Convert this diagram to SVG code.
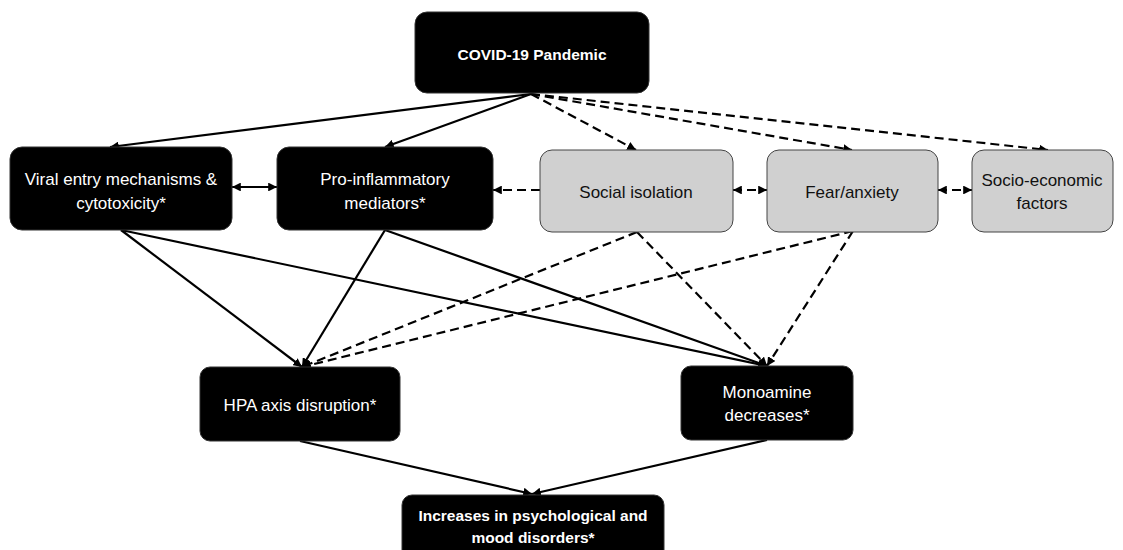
<svg xmlns="http://www.w3.org/2000/svg" width="1123" height="550" viewBox="0 0 1123 550">
<defs>
<marker id="ah" viewBox="0 0 10 10" refX="10" refY="5" markerWidth="4" markerHeight="4" orient="auto-start-reverse" markerUnits="strokeWidth">
<path d="M0,0 L10,5 L0,10 z" fill="#000"/>
</marker>
<style>
.dark rect{fill:#000;stroke:#333;stroke-width:1}
.light rect{fill:#d0d0d0;stroke:#444;stroke-width:1}
text{font-family:"Liberation Sans",Arial,sans-serif;font-size:17px;text-anchor:middle}
.dark text{fill:#fff}
.light text{fill:#111}
.b{font-weight:bold;font-size:15.5px}
.c line{stroke:#000;stroke-width:2.2;fill:none;marker-end:url(#ah)}
.c .d{stroke-dasharray:9 5}
.c .both{marker-start:url(#ah)}
</style>
</defs>
<rect width="1123" height="550" fill="#fff"/>
<g class="c" id="connectors">
<line x1="531" y1="94" x2="110" y2="147"/>
<line x1="531" y1="94" x2="385" y2="147"/>
<line class="d" x1="531" y1="94" x2="636" y2="150"/>
<line class="d" x1="531" y1="94" x2="852" y2="150"/>
<line class="d" x1="531" y1="94" x2="1048" y2="150"/>
<line class="both" x1="232" y1="187" x2="277" y2="187"/>
<line class="d" x1="540" y1="190" x2="493" y2="190"/>
<line class="d both" x1="733" y1="190" x2="767" y2="190"/>
<line class="d both" x1="938" y1="190" x2="972" y2="190"/>
<line x1="121" y1="230" x2="302" y2="367"/>
<line x1="121" y1="230" x2="767" y2="366"/>
<line x1="385" y1="230" x2="302" y2="367"/>
<line x1="385" y1="230" x2="767" y2="366"/>
<line class="d" x1="637" y1="232" x2="302" y2="367"/>
<line class="d" x1="637" y1="232" x2="767" y2="366"/>
<line class="d" x1="853" y1="231" x2="302" y2="367"/>
<line class="d" x1="853" y1="231" x2="767" y2="366"/>
<line x1="300" y1="441" x2="532" y2="494"/>
<line x1="767" y1="440" x2="532" y2="494"/>
</g>
<g id="covid" class="dark">
<rect x="415" y="12" width="234" height="81" rx="12"/>
<text class="b" x="532" y="60">COVID-19 Pandemic</text>
</g>
<g id="viral" class="dark">
<rect x="10" y="147" width="222" height="83" rx="12"/>
<text x="121" y="185">Viral entry mechanisms &amp;</text>
<text x="121" y="209">cytotoxicity*</text>
</g>
<g id="proinflammatory" class="dark">
<rect x="277" y="147" width="216" height="83" rx="12"/>
<text x="385" y="185">Pro-inflammatory</text>
<text x="385" y="209">mediators*</text>
</g>
<g id="social" class="light">
<rect x="540" y="150" width="193" height="82" rx="12"/>
<text x="636" y="198">Social isolation</text>
</g>
<g id="fear" class="light">
<rect x="767" y="150" width="171" height="82" rx="12"/>
<text x="852" y="198">Fear/anxiety</text>
</g>
<g id="socioeconomic" class="light">
<rect x="972" y="150" width="141" height="82" rx="12"/>
<text x="1042" y="186">Socio-economic</text>
<text x="1042" y="209">factors</text>
</g>
<g id="hpa" class="dark">
<rect x="200" y="367" width="200" height="74" rx="10"/>
<text x="300" y="411">HPA axis disruption*</text>
</g>
<g id="monoamine" class="dark">
<rect x="681" y="366" width="172" height="74" rx="10"/>
<text x="767" y="398">Monoamine</text>
<text x="767" y="421">decreases*</text>
</g>
<g id="increases" class="dark">
<rect x="402" y="495" width="262" height="70" rx="10"/>
<text class="b" x="533" y="521">Increases in psychological and</text>
<text class="b" x="533" y="543">mood disorders*</text>
</g>
</svg>
